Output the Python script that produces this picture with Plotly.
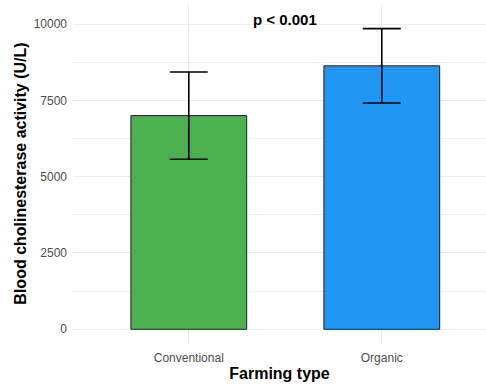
import plotly.graph_objects as go

categories = ["Conventional", "Organic"]
means = [7000, 8630]
sds = [1430, 1220]
bar_colors = ["#4CAF50", "#2196F3"]
y_ticks = [0, 2500, 5000, 7500, 10000]
p_label = "p < 0.001"
p_y = 10160

fig = go.Figure()
fig.add_trace(go.Bar(
    x=categories, y=means, width=0.6,
    marker=dict(color=bar_colors, line=dict(color="#222222", width=1)),
    error_y=dict(type="data", array=sds, visible=True, color="black", thickness=1.6, width=19),
    showlegend=False,
))

fig.add_annotation(x=0.5, y=p_y, xref="x", yref="y", text="<b>" + p_label + "</b>",
                   showarrow=False, font=dict(family="Liberation Sans, Arial", size=15, color="black"),
                   yanchor="middle", xanchor="center")

font_main = "Liberation Sans, Arial"
fig.update_layout(
    width=486, height=387,
    margin=dict(l=73, r=0, t=4, b=44),
    plot_bgcolor="white", paper_bgcolor="white",
    font=dict(family=font_main),
    xaxis=dict(
        range=[-0.6, 1.54], showgrid=True, gridcolor="#ebebeb", gridwidth=1,
        zeroline=False, showline=False, ticks="", automargin=False,
        tickfont=dict(size=12, color="#4d4d4d", family=font_main),
        ticklabelstandoff=6,
        title=dict(text="<b>Farming type</b>", font=dict(size=16, color="black", family=font_main), standoff=3),
    ),
    yaxis=dict(
        range=[-449, 10655], tickvals=y_ticks, ticktext=[str(v) for v in y_ticks],
        showgrid=True, gridcolor="#ebebeb", gridwidth=1,
        minor=dict(dtick=1250, tick0=0, showgrid=True, gridcolor="#f0f0f0", gridwidth=0.6),
        zeroline=False, showline=False, ticks="", automargin=False,
        tickfont=dict(size=12, color="#4d4d4d", family=font_main),
        ticklabelstandoff=5,
        title=dict(text="<b>Blood cholinesterase activity (U/L)</b>", font=dict(size=16, color="black", family=font_main), standoff=3),
    ),
)

fig.write_html("out.html", config={"displayModeBar": False},
               post_script="document.body.style.margin='0';document.body.style.overflow='hidden';")
